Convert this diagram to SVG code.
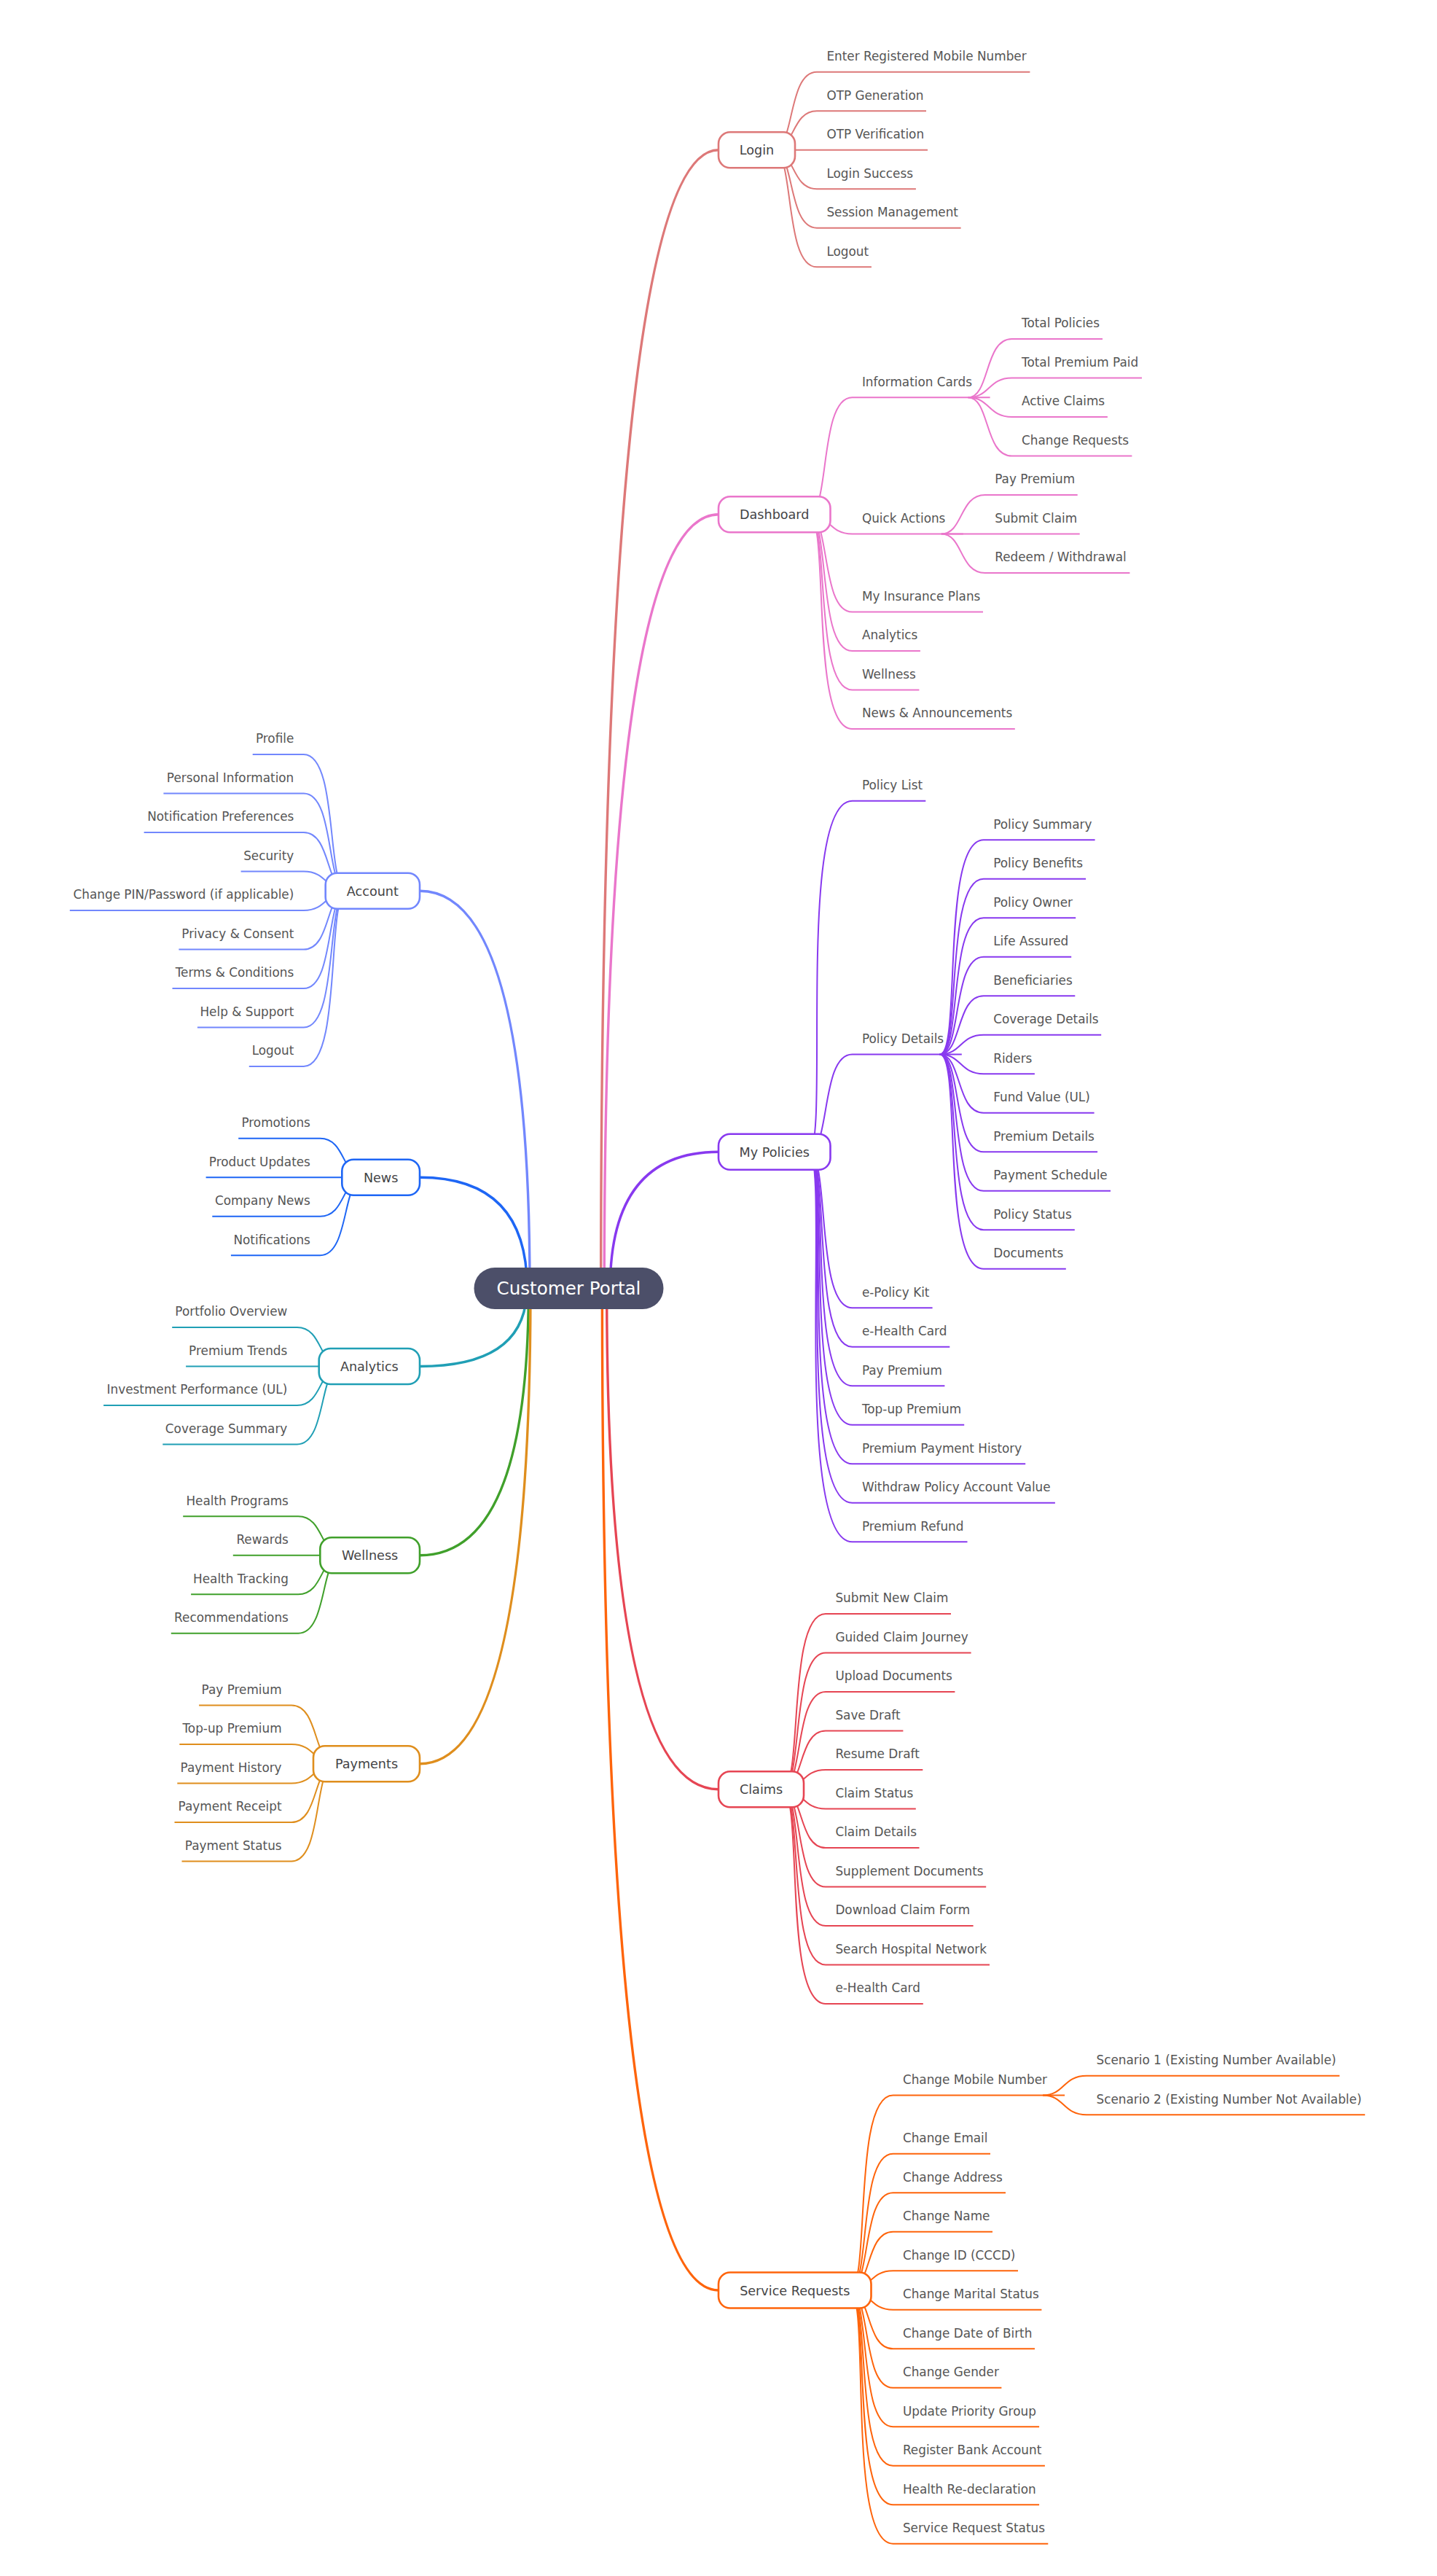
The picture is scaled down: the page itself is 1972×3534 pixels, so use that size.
<svg xmlns="http://www.w3.org/2000/svg" width="1972" height="3534" viewBox="0 0 1972 3534">
<style>
text{font-family:"DejaVu Sans","Liberation Sans",sans-serif;fill:#444446}
.st{font-size:16.85px;fill:#555555}
.mt{font-size:17.6px;text-anchor:middle;fill:#444446}
.rt{font-size:24.6px;text-anchor:middle;fill:#ffffff}
.ln path{fill:none;stroke-width:2}
.mb path{fill:none;stroke-width:3.4}
.box{fill:#ffffff;stroke-width:2.6}
.e{text-anchor:end}
.c1{stroke:#dd7878}.c2{stroke:#ea76cb}.c3{stroke:#8839ef}.c4{stroke:#e64553}.c5{stroke:#fe640b}
.c6{stroke:#df8e1d}.c7{stroke:#40a02b}.c8{stroke:#209fb5}.c9{stroke:#1e66f5}.c10{stroke:#7287fd}
</style>
<rect width="1972" height="3534" fill="#ffffff"/>
<g id="connectors">
<g class="mb">
<path class="c1" d="M 824.64 1767.5 Q 824.64 205.75 986 205.75"/>
<path class="c2" d="M 829.24 1767.5 Q 829.24 705.75 986 705.75"/>
<path class="c3" d="M 837.28 1767.5 Q 837.28 1580.25 986 1580.25"/>
<path class="c4" d="M 832.68 1767.5 Q 832.68 2454.75 986 2454.75"/>
<path class="c5" d="M 826.36 1767.5 Q 826.36 3142 986 3142"/>
<path class="c10" d="M 727.01 1767.5 Q 727.01 1222.25 576 1222.25"/>
<path class="c9" d="M 723.4 1767.5 Q 723.4 1615.25 576 1615.25"/>
<path class="c8" d="M 722.98 1767.5 Q 722.98 1874.5 576 1874.5"/>
<path class="c7" d="M 725.37 1767.5 Q 725.37 2133.75 576 2133.75"/>
<path class="c6" d="M 728 1767.5 Q 728 2419.75 576 2419.75"/>
</g>
<g class="ln">
<g class="c1">
<path d="M 1061 205.75 C 1091 205.75 1080.3 98.75 1121 98.75 H 1413.4"/>
<path d="M 1061 205.75 C 1091 205.75 1085.65 152.25 1121 152.25 H 1271"/>
<path d="M 1061 205.75 C 1091 205.75 1091 205.75 1121 205.75 H 1273"/>
<path d="M 1061 205.75 C 1091 205.75 1085.65 259.25 1121 259.25 H 1256.9"/>
<path d="M 1061 205.75 C 1091 205.75 1080.3 312.75 1121 312.75 H 1318.6"/>
<path d="M 1061 205.75 C 1091 205.75 1074.95 366.25 1121 366.25 H 1195.9"/>
</g>
<g class="c2">
<path d="M 1109.5 705.75 C 1139.5 705.75 1123.45 545.25 1169.5 545.25 H 1358.6"/>
<path d="M 1109.5 705.75 C 1139.5 705.75 1136.825 732.5 1169.5 732.5 H 1321.8"/>
<path d="M 1109.5 705.75 C 1139.5 705.75 1126.125 839.5 1169.5 839.5 H 1349"/>
<path d="M 1109.5 705.75 C 1139.5 705.75 1120.775 893 1169.5 893 H 1262.9"/>
<path d="M 1109.5 705.75 C 1139.5 705.75 1115.425 946.5 1169.5 946.5 H 1261.4"/>
<path d="M 1109.5 705.75 C 1139.5 705.75 1110.075 1000 1169.5 1000 H 1392.8"/>
<path d="M 1328.6 545.25 C 1358.6 545.25 1350.575 465 1388.6 465 H 1513"/>
<path d="M 1328.6 545.25 C 1358.6 545.25 1355.925 518.5 1388.6 518.5 H 1567"/>
<path d="M 1328.6 545.25 C 1358.6 545.25 1355.925 572 1388.6 572 H 1519.9"/>
<path d="M 1328.6 545.25 C 1358.6 545.25 1350.575 625.5 1388.6 625.5 H 1553.4"/>
<path d="M 1291.8 732.5 C 1321.8 732.5 1316.45 679 1351.8 679 H 1478.7"/>
<path d="M 1291.8 732.5 C 1321.8 732.5 1321.8 732.5 1351.8 732.5 H 1481.7"/>
<path d="M 1291.8 732.5 C 1321.8 732.5 1316.45 786 1351.8 786 H 1550.4"/>
</g>
<g class="c3">
<path d="M 1109.5 1580.25 C 1139.5 1580.25 1091.35 1098.75 1169.5 1098.75 H 1270.3"/>
<path d="M 1109.5 1580.25 C 1139.5 1580.25 1126.125 1446.5 1169.5 1446.5 H 1319.8"/>
<path d="M 1109.5 1580.25 C 1139.5 1580.25 1118.1 1794.25 1169.5 1794.25 H 1279.6"/>
<path d="M 1109.5 1580.25 C 1139.5 1580.25 1112.75 1847.75 1169.5 1847.75 H 1303.3"/>
<path d="M 1109.5 1580.25 C 1139.5 1580.25 1107.4 1901.25 1169.5 1901.25 H 1296.4"/>
<path d="M 1109.5 1580.25 C 1139.5 1580.25 1102.05 1954.75 1169.5 1954.75 H 1323.2"/>
<path d="M 1109.5 1580.25 C 1139.5 1580.25 1096.7 2008.25 1169.5 2008.25 H 1407.2"/>
<path d="M 1109.5 1580.25 C 1139.5 1580.25 1091.35 2061.75 1169.5 2061.75 H 1447.9"/>
<path d="M 1109.5 1580.25 C 1139.5 1580.25 1086 2115.25 1169.5 2115.25 H 1327.5"/>
<path d="M 1289.8 1446.5 C 1319.8 1446.5 1290.375 1152.25 1349.8 1152.25 H 1502.6"/>
<path d="M 1289.8 1446.5 C 1319.8 1446.5 1295.725 1205.75 1349.8 1205.75 H 1490.1"/>
<path d="M 1289.8 1446.5 C 1319.8 1446.5 1301.075 1259.25 1349.8 1259.25 H 1476.2"/>
<path d="M 1289.8 1446.5 C 1319.8 1446.5 1306.425 1312.75 1349.8 1312.75 H 1470.2"/>
<path d="M 1289.8 1446.5 C 1319.8 1446.5 1311.775 1366.25 1349.8 1366.25 H 1475.3"/>
<path d="M 1289.8 1446.5 C 1319.8 1446.5 1317.125 1419.75 1349.8 1419.75 H 1511.2"/>
<path d="M 1289.8 1446.5 C 1319.8 1446.5 1317.125 1473.25 1349.8 1473.25 H 1419.9"/>
<path d="M 1289.8 1446.5 C 1319.8 1446.5 1311.775 1526.75 1349.8 1526.75 H 1501.6"/>
<path d="M 1289.8 1446.5 C 1319.8 1446.5 1306.425 1580.25 1349.8 1580.25 H 1506.1"/>
<path d="M 1289.8 1446.5 C 1319.8 1446.5 1301.075 1633.75 1349.8 1633.75 H 1524"/>
<path d="M 1289.8 1446.5 C 1319.8 1446.5 1295.725 1687.25 1349.8 1687.25 H 1474.8"/>
<path d="M 1289.8 1446.5 C 1319.8 1446.5 1290.375 1740.75 1349.8 1740.75 H 1462.8"/>
</g>
<g class="c4">
<path d="M 1073 2454.75 C 1103 2454.75 1078.925 2214 1133 2214 H 1305"/>
<path d="M 1073 2454.75 C 1103 2454.75 1084.275 2267.5 1133 2267.5 H 1332.6"/>
<path d="M 1073 2454.75 C 1103 2454.75 1089.625 2321 1133 2321 H 1310.4"/>
<path d="M 1073 2454.75 C 1103 2454.75 1094.975 2374.5 1133 2374.5 H 1239.4"/>
<path d="M 1073 2454.75 C 1103 2454.75 1100.325 2428 1133 2428 H 1266.3"/>
<path d="M 1073 2454.75 C 1103 2454.75 1100.325 2481.5 1133 2481.5 H 1256.8"/>
<path d="M 1073 2454.75 C 1103 2454.75 1094.975 2535 1133 2535 H 1261.5"/>
<path d="M 1073 2454.75 C 1103 2454.75 1089.625 2588.5 1133 2588.5 H 1353.2"/>
<path d="M 1073 2454.75 C 1103 2454.75 1084.275 2642 1133 2642 H 1335.6"/>
<path d="M 1073 2454.75 C 1103 2454.75 1078.925 2695.5 1133 2695.5 H 1358"/>
<path d="M 1073 2454.75 C 1103 2454.75 1073.575 2749 1133 2749 H 1266.8"/>
</g>
<g class="c5">
<path d="M 1165.5 3142 C 1195.5 3142 1168.75 2874.5 1225.5 2874.5 H 1461.1"/>
<path d="M 1431.1 2874.5 C 1461.1 2874.5 1458.425 2847.75 1491.1 2847.75 H 1838.3"/>
<path d="M 1431.1 2874.5 C 1461.1 2874.5 1458.425 2901.25 1491.1 2901.25 H 1873.2"/>
<path d="M 1165.5 3142 C 1195.5 3142 1176.775 2954.75 1225.5 2954.75 H 1359"/>
<path d="M 1165.5 3142 C 1195.5 3142 1182.125 3008.25 1225.5 3008.25 H 1380"/>
<path d="M 1165.5 3142 C 1195.5 3142 1187.475 3061.75 1225.5 3061.75 H 1362"/>
<path d="M 1165.5 3142 C 1195.5 3142 1192.825 3115.25 1225.5 3115.25 H 1397"/>
<path d="M 1165.5 3142 C 1195.5 3142 1192.825 3168.75 1225.5 3168.75 H 1429.4"/>
<path d="M 1165.5 3142 C 1195.5 3142 1187.475 3222.25 1225.5 3222.25 H 1420"/>
<path d="M 1165.5 3142 C 1195.5 3142 1182.125 3275.75 1225.5 3275.75 H 1374.4"/>
<path d="M 1165.5 3142 C 1195.5 3142 1176.775 3329.25 1225.5 3329.25 H 1426.1"/>
<path d="M 1165.5 3142 C 1195.5 3142 1171.425 3382.75 1225.5 3382.75 H 1433.9"/>
<path d="M 1165.5 3142 C 1195.5 3142 1166.075 3436.25 1225.5 3436.25 H 1426.1"/>
<path d="M 1165.5 3142 C 1195.5 3142 1160.725 3489.75 1225.5 3489.75 H 1438.3"/>
</g>
<g class="c10">
<path d="M 476.7 1222.25 C 446.7 1222.25 465.425 1035 416.7 1035 H 346.7"/>
<path d="M 476.7 1222.25 C 446.7 1222.25 460.075 1088.5 416.7 1088.5 H 224.4"/>
<path d="M 476.7 1222.25 C 446.7 1222.25 454.725 1142 416.7 1142 H 197.6"/>
<path d="M 476.7 1222.25 C 446.7 1222.25 449.375 1195.5 416.7 1195.5 H 330.6"/>
<path d="M 476.7 1222.25 C 446.7 1222.25 449.375 1249 416.7 1249 H 95.8"/>
<path d="M 476.7 1222.25 C 446.7 1222.25 454.725 1302.5 416.7 1302.5 H 245.4"/>
<path d="M 476.7 1222.25 C 446.7 1222.25 460.075 1356 416.7 1356 H 236.5"/>
<path d="M 476.7 1222.25 C 446.7 1222.25 465.425 1409.5 416.7 1409.5 H 270.9"/>
<path d="M 476.7 1222.25 C 446.7 1222.25 470.775 1463 416.7 1463 H 341.8"/>
</g>
<g class="c9">
<path d="M 499.3 1615.25 C 469.3 1615.25 474.65 1561.75 439.3 1561.75 H 327.2"/>
<path d="M 499.3 1615.25 C 469.3 1615.25 469.3 1615.25 439.3 1615.25 H 282.6"/>
<path d="M 499.3 1615.25 C 469.3 1615.25 474.65 1668.75 439.3 1668.75 H 291.3"/>
<path d="M 499.3 1615.25 C 469.3 1615.25 480 1722.25 439.3 1722.25 H 316.9"/>
</g>
<g class="c8">
<path d="M 467.7 1874.5 C 437.7 1874.5 443.05 1821 407.7 1821 H 236.2"/>
<path d="M 467.7 1874.5 C 437.7 1874.5 437.7 1874.5 407.7 1874.5 H 255.1"/>
<path d="M 467.7 1874.5 C 437.7 1874.5 443.05 1928 407.7 1928 H 142.1"/>
<path d="M 467.7 1874.5 C 437.7 1874.5 448.4 1981.5 407.7 1981.5 H 223.3"/>
</g>
<g class="c7">
<path d="M 469.3 2133.75 C 439.3 2133.75 444.65 2080.25 409.3 2080.25 H 251.2"/>
<path d="M 469.3 2133.75 C 439.3 2133.75 439.3 2133.75 409.3 2133.75 H 319.8"/>
<path d="M 469.3 2133.75 C 439.3 2133.75 444.65 2187.25 409.3 2187.25 H 262.1"/>
<path d="M 469.3 2133.75 C 439.3 2133.75 450 2240.75 409.3 2240.75 H 234.8"/>
</g>
<g class="c6">
<path d="M 460 2419.75 C 430 2419.75 438.025 2339.5 400 2339.5 H 273.1"/>
<path d="M 460 2419.75 C 430 2419.75 432.675 2393 400 2393 H 246.3"/>
<path d="M 460 2419.75 C 430 2419.75 432.675 2446.5 400 2446.5 H 243.3"/>
<path d="M 460 2419.75 C 430 2419.75 438.025 2500 400 2500 H 239.5"/>
<path d="M 460 2419.75 C 430 2419.75 443.375 2553.5 400 2553.5 H 249.5"/>
</g>
</g>
</g>
<g id="root"><rect x="650.5" y="1739" width="260" height="57" rx="28.5" fill="#4c4f69"/><text class="rt" x="780.5" y="1775.5">Customer Portal</text></g>
<g id="login"><rect class="box c1" x="986" y="181.25" width="105" height="49" rx="16"/><text class="mt" x="1038.5" y="212.35">Login</text></g>
<g id="login-1"><text class="st" x="1134.4" y="83.05">Enter Registered Mobile Number</text></g>
<g id="login-2"><text class="st" x="1134.4" y="136.55">OTP Generation</text></g>
<g id="login-3"><text class="st" x="1134.4" y="190.05">OTP Verification</text></g>
<g id="login-4"><text class="st" x="1134.4" y="243.55">Login Success</text></g>
<g id="login-5"><text class="st" x="1134.4" y="297.05">Session Management</text></g>
<g id="login-6"><text class="st" x="1134.4" y="350.55">Logout</text></g>
<g id="dashboard"><rect class="box c2" x="986" y="681.25" width="153.5" height="49" rx="16"/><text class="mt" x="1062.75" y="712.35">Dashboard</text></g>
<g id="dash-info"><text class="st" x="1182.9" y="529.55">Information Cards</text></g>
<g id="dash-info-1"><text class="st" x="1402" y="449.3">Total Policies</text></g>
<g id="dash-info-2"><text class="st" x="1402" y="502.8">Total Premium Paid</text></g>
<g id="dash-info-3"><text class="st" x="1402" y="556.3">Active Claims</text></g>
<g id="dash-info-4"><text class="st" x="1402" y="609.8">Change Requests</text></g>
<g id="dash-quick"><text class="st" x="1182.9" y="716.8">Quick Actions</text></g>
<g id="dash-quick-1"><text class="st" x="1365.2" y="663.3">Pay Premium</text></g>
<g id="dash-quick-2"><text class="st" x="1365.2" y="716.8">Submit Claim</text></g>
<g id="dash-quick-3"><text class="st" x="1365.2" y="770.3">Redeem / Withdrawal</text></g>
<g id="dash-plans"><text class="st" x="1182.9" y="823.8">My Insurance Plans</text></g>
<g id="dash-analytics"><text class="st" x="1182.9" y="877.3">Analytics</text></g>
<g id="dash-wellness"><text class="st" x="1182.9" y="930.8">Wellness</text></g>
<g id="dash-news"><text class="st" x="1182.9" y="984.3">News &amp; Announcements</text></g>
<g id="policies"><rect class="box c3" x="986" y="1555.75" width="153.5" height="49" rx="16"/><text class="mt" x="1062.75" y="1586.85">My Policies</text></g>
<g id="pol-list"><text class="st" x="1182.9" y="1083.05">Policy List</text></g>
<g id="pol-details"><text class="st" x="1182.9" y="1430.8">Policy Details</text></g>
<g id="pol-d-1"><text class="st" x="1363.2" y="1136.55">Policy Summary</text></g>
<g id="pol-d-2"><text class="st" x="1363.2" y="1190.05">Policy Benefits</text></g>
<g id="pol-d-3"><text class="st" x="1363.2" y="1243.55">Policy Owner</text></g>
<g id="pol-d-4"><text class="st" x="1363.2" y="1297.05">Life Assured</text></g>
<g id="pol-d-5"><text class="st" x="1363.2" y="1350.55">Beneficiaries</text></g>
<g id="pol-d-6"><text class="st" x="1363.2" y="1404.05">Coverage Details</text></g>
<g id="pol-d-7"><text class="st" x="1363.2" y="1457.55">Riders</text></g>
<g id="pol-d-8"><text class="st" x="1363.2" y="1511.05">Fund Value (UL)</text></g>
<g id="pol-d-9"><text class="st" x="1363.2" y="1564.55">Premium Details</text></g>
<g id="pol-d-10"><text class="st" x="1363.2" y="1618.05">Payment Schedule</text></g>
<g id="pol-d-11"><text class="st" x="1363.2" y="1671.55">Policy Status</text></g>
<g id="pol-d-12"><text class="st" x="1363.2" y="1725.05">Documents</text></g>
<g id="pol-kit"><text class="st" x="1182.9" y="1778.55">e-Policy Kit</text></g>
<g id="pol-card"><text class="st" x="1182.9" y="1832.05">e-Health Card</text></g>
<g id="pol-pay"><text class="st" x="1182.9" y="1885.55">Pay Premium</text></g>
<g id="pol-topup"><text class="st" x="1182.9" y="1939.05">Top-up Premium</text></g>
<g id="pol-history"><text class="st" x="1182.9" y="1992.55">Premium Payment History</text></g>
<g id="pol-withdraw"><text class="st" x="1182.9" y="2046.05">Withdraw Policy Account Value</text></g>
<g id="pol-refund"><text class="st" x="1182.9" y="2099.55">Premium Refund</text></g>
<g id="claims"><rect class="box c4" x="986" y="2430.25" width="117" height="49" rx="16"/><text class="mt" x="1044.5" y="2461.35">Claims</text></g>
<g id="cl-1"><text class="st" x="1146.4" y="2198.3">Submit New Claim</text></g>
<g id="cl-2"><text class="st" x="1146.4" y="2251.8">Guided Claim Journey</text></g>
<g id="cl-3"><text class="st" x="1146.4" y="2305.3">Upload Documents</text></g>
<g id="cl-4"><text class="st" x="1146.4" y="2358.8">Save Draft</text></g>
<g id="cl-5"><text class="st" x="1146.4" y="2412.3">Resume Draft</text></g>
<g id="cl-6"><text class="st" x="1146.4" y="2465.8">Claim Status</text></g>
<g id="cl-7"><text class="st" x="1146.4" y="2519.3">Claim Details</text></g>
<g id="cl-8"><text class="st" x="1146.4" y="2572.8">Supplement Documents</text></g>
<g id="cl-9"><text class="st" x="1146.4" y="2626.3">Download Claim Form</text></g>
<g id="cl-10"><text class="st" x="1146.4" y="2679.8">Search Hospital Network</text></g>
<g id="cl-11"><text class="st" x="1146.4" y="2733.3">e-Health Card</text></g>
<g id="service"><rect class="box c5" x="986" y="3117.5" width="209.5" height="49" rx="16"/><text class="mt" x="1090.75" y="3148.6">Service Requests</text></g>
<g id="sr-mobile"><text class="st" x="1238.9" y="2858.8">Change Mobile Number</text></g>
<g id="sr-mobile-1"><text class="st" x="1504.5" y="2832.05">Scenario 1 (Existing Number Available)</text></g>
<g id="sr-mobile-2"><text class="st" x="1504.5" y="2885.55">Scenario 2 (Existing Number Not Available)</text></g>
<g id="sr-2"><text class="st" x="1238.9" y="2939.05">Change Email</text></g>
<g id="sr-3"><text class="st" x="1238.9" y="2992.55">Change Address</text></g>
<g id="sr-4"><text class="st" x="1238.9" y="3046.05">Change Name</text></g>
<g id="sr-5"><text class="st" x="1238.9" y="3099.55">Change ID (CCCD)</text></g>
<g id="sr-6"><text class="st" x="1238.9" y="3153.05">Change Marital Status</text></g>
<g id="sr-7"><text class="st" x="1238.9" y="3206.55">Change Date of Birth</text></g>
<g id="sr-8"><text class="st" x="1238.9" y="3260.05">Change Gender</text></g>
<g id="sr-9"><text class="st" x="1238.9" y="3313.55">Update Priority Group</text></g>
<g id="sr-10"><text class="st" x="1238.9" y="3367.05">Register Bank Account</text></g>
<g id="sr-11"><text class="st" x="1238.9" y="3420.55">Health Re-declaration</text></g>
<g id="sr-12"><text class="st" x="1238.9" y="3474.05">Service Request Status</text></g>
<g id="account"><rect class="box c10" x="446.7" y="1197.75" width="129.3" height="49" rx="16"/><text class="mt" x="511.35" y="1228.85">Account</text></g>
<g id="acc-1"><text class="st e" x="403.3" y="1019.3">Profile</text></g>
<g id="acc-2"><text class="st e" x="403.3" y="1072.8">Personal Information</text></g>
<g id="acc-3"><text class="st e" x="403.3" y="1126.3">Notification Preferences</text></g>
<g id="acc-4"><text class="st e" x="403.3" y="1179.8">Security</text></g>
<g id="acc-5"><text class="st e" x="403.3" y="1233.3">Change PIN/Password (if applicable)</text></g>
<g id="acc-6"><text class="st e" x="403.3" y="1286.8">Privacy &amp; Consent</text></g>
<g id="acc-7"><text class="st e" x="403.3" y="1340.3">Terms &amp; Conditions</text></g>
<g id="acc-8"><text class="st e" x="403.3" y="1393.8">Help &amp; Support</text></g>
<g id="acc-9"><text class="st e" x="403.3" y="1447.3">Logout</text></g>
<g id="news"><rect class="box c9" x="469.3" y="1590.75" width="106.7" height="49" rx="16"/><text class="mt" x="522.65" y="1621.85">News</text></g>
<g id="news-1"><text class="st e" x="425.9" y="1546.05">Promotions</text></g>
<g id="news-2"><text class="st e" x="425.9" y="1599.55">Product Updates</text></g>
<g id="news-3"><text class="st e" x="425.9" y="1653.05">Company News</text></g>
<g id="news-4"><text class="st e" x="425.9" y="1706.55">Notifications</text></g>
<g id="analytics"><rect class="box c8" x="437.7" y="1850" width="138.3" height="49" rx="16"/><text class="mt" x="506.85" y="1881.1">Analytics</text></g>
<g id="an-1"><text class="st e" x="394.3" y="1805.3">Portfolio Overview</text></g>
<g id="an-2"><text class="st e" x="394.3" y="1858.8">Premium Trends</text></g>
<g id="an-3"><text class="st e" x="394.3" y="1912.3">Investment Performance (UL)</text></g>
<g id="an-4"><text class="st e" x="394.3" y="1965.8">Coverage Summary</text></g>
<g id="wellness"><rect class="box c7" x="439.3" y="2109.25" width="136.7" height="49" rx="16"/><text class="mt" x="507.65" y="2140.35">Wellness</text></g>
<g id="wl-1"><text class="st e" x="395.9" y="2064.55">Health Programs</text></g>
<g id="wl-2"><text class="st e" x="395.9" y="2118.05">Rewards</text></g>
<g id="wl-3"><text class="st e" x="395.9" y="2171.55">Health Tracking</text></g>
<g id="wl-4"><text class="st e" x="395.9" y="2225.05">Recommendations</text></g>
<g id="payments"><rect class="box c6" x="430" y="2395.25" width="146" height="49" rx="16"/><text class="mt" x="503" y="2426.35">Payments</text></g>
<g id="pay-1"><text class="st e" x="386.6" y="2323.8">Pay Premium</text></g>
<g id="pay-2"><text class="st e" x="386.6" y="2377.3">Top-up Premium</text></g>
<g id="pay-3"><text class="st e" x="386.6" y="2430.8">Payment History</text></g>
<g id="pay-4"><text class="st e" x="386.6" y="2484.3">Payment Receipt</text></g>
<g id="pay-5"><text class="st e" x="386.6" y="2537.8">Payment Status</text></g>
</svg>
